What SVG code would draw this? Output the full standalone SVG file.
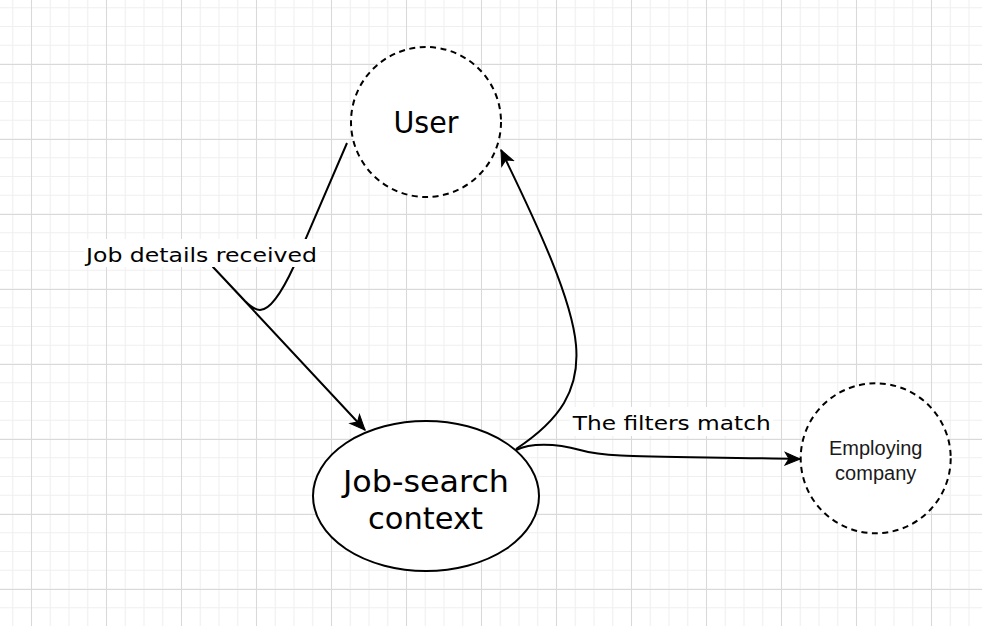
<svg xmlns="http://www.w3.org/2000/svg" width="982" height="626" viewBox="0 0 982 626">
  <defs>
    <pattern id="minor" patternUnits="userSpaceOnUse" x="22.125" y="54.625" width="18.75" height="18.75">
      <rect width="18.75" height="18.75" fill="#ffffff"/>
      <path d="M9.375,0V18.75M0,9.375H18.75" stroke="#efefef" stroke-width="1" fill="none"/>
    </pattern>
    <marker id="arrow" markerUnits="userSpaceOnUse" viewBox="-16 -8 17 16" markerWidth="17" markerHeight="16" refX="0" refY="0" orient="auto">
      <path d="M0,0 L-15,-6.5 L-11,0 L-15,6.5 Z" fill="#000" stroke="#000" stroke-width="1" stroke-linejoin="miter"/>
    </marker>
    <style>
      .major { fill: none; stroke: #d9d9d9; stroke-width: 1; }
      .edge { fill: none; stroke: #000; stroke-width: 2; stroke-linejoin: round; }
      .node { fill: #fff; stroke: #000; stroke-width: 2; }
      .dashed { stroke-dasharray: 6 4.5; }
      .comic { font-family: "Comic Sans MS", "DejaVu Sans", sans-serif; fill: #000; text-anchor: middle; }
      .plain { font-family: "Liberation Sans", Arial, sans-serif; fill: #1a1a1a; text-anchor: middle; font-size: 20px; }
      .lbg { fill: #fff; }
    </style>
  </defs>

  <g id="grid">
    <rect width="982" height="626" fill="url(#minor)"/>
    <path class="major" d="M31.5,0V626M106.5,0V626M181.5,0V626M256.5,0V626M331.5,0V626M406.5,0V626M481.5,0V626M556.5,0V626M631.5,0V626M706.5,0V626M781.5,0V626M856.5,0V626M931.5,0V626M0,64.5H982M0,139.5H982M0,214.5H982M0,289.5H982M0,364.5H982M0,439.5H982M0,514.5H982M0,589.5H982"/>
  </g>

  <g id="connectors">
    <path id="edge-user-job" class="edge" marker-end="url(#arrow)" d="M347,143 L294,266 C282,292 270,310 260,310 C255,310 250,306 245,301 L213,267 L365,430"/>
    <path id="edge-job-user" class="edge" marker-end="url(#arrow)" d="M516,449 C560,420 580,390 576,345 C572,300 540,230 501,150"/>
    <path id="edge-job-company" class="edge" marker-end="url(#arrow)" d="M516,450 C530,443 555,443 580,450 C608,457.8 640,456 800,459"/>
  </g>

  <g id="label-job-details">
    <rect class="lbg" x="84" y="239" width="236" height="28"/>
    <text class="comic" x="201.5" y="261.5" font-size="20" textLength="231" lengthAdjust="spacingAndGlyphs">Job details received</text>
  </g>
  <g id="label-filters">
    <rect class="lbg" x="570" y="407" width="203" height="29"/>
    <text class="comic" x="671.7" y="430" font-size="20" textLength="198" lengthAdjust="spacingAndGlyphs">The filters match</text>
  </g>

  <g id="node-user">
    <circle class="node dashed" cx="426" cy="122" r="75"/>
    <text class="comic" x="426" y="133" font-size="30" textLength="65" lengthAdjust="spacingAndGlyphs">User</text>
  </g>

  <g id="node-job-search">
    <ellipse class="node" cx="426" cy="496" rx="113" ry="75"/>
    <text class="comic" x="426" y="492" font-size="30" textLength="166" lengthAdjust="spacingAndGlyphs">Job-search</text>
    <text class="comic" x="425.5" y="529" font-size="30" textLength="115" lengthAdjust="spacingAndGlyphs">context</text>
  </g>

  <g id="node-company">
    <circle class="node dashed" cx="875.7" cy="458.3" r="75"/>
    <text class="plain" x="875.7" y="455">Employing</text>
    <text class="plain" x="875.7" y="480">company</text>
  </g>
</svg>
